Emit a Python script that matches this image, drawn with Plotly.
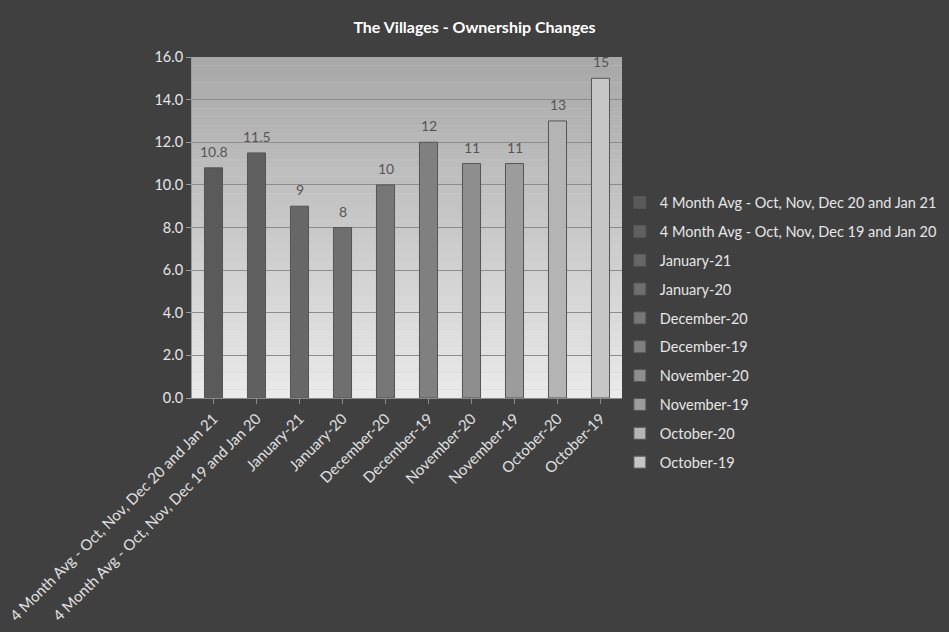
import plotly.graph_objects as go

# Chart values
categories = [
    "4 Month Avg - Oct, Nov, Dec 20 and Jan 21",
    "4 Month Avg - Oct, Nov, Dec 19 and Jan 20",
    "January-21",
    "January-20",
    "December-20",
    "December-19",
    "November-20",
    "November-19",
    "October-20",
    "October-19",
]
values = [10.8, 11.5, 9, 8, 10, 12, 11, 11, 13, 15]
labels = ["10.8", "11.5", "9", "8", "10", "12", "11", "11", "13", "15"]
bar_colors = [
    "#5a5a5a", "#606060", "#676767", "#6f6f6f", "#777777",
    "#808080", "#8e8e8e", "#9c9c9c", "#b4b4b4", "#c6c6c6",
]
y_ticks = [0, 2, 4, 6, 8, 10, 12, 14, 16]

FONT = "Lato, 'Open Sans', sans-serif"

fig = go.Figure()

for cat, val, col in zip(categories, values, bar_colors):
    fig.add_trace(go.Bar(
        x=[cat],
        y=[val],
        name=cat,
        legendgroup=cat,
        width=0.42,
        marker=dict(color=col, line=dict(color="#555555", width=1)),
    ))

# value labels above the bars
for cat, val, lab in zip(categories, values, labels):
    fig.add_annotation(
        x=cat, y=val, text=lab, showarrow=False,
        yanchor="bottom", yshift=6,
        font=dict(color="#555555", size=14, family=FONT),
    )

# gradient wall behind the bars (darker at top, lighter at bottom)
n_bands = 40
for i in range(n_bands):
    t = i / (n_bands - 1)
    g = int(234 - (234 - 168) * t)
    fig.add_shape(
        type="rect", xref="x domain", yref="y domain",
        x0=0, x1=1, y0=i / n_bands, y1=(i + 1) / n_bands,
        fillcolor=f"rgb({g},{g},{g})", line=dict(width=0),
        layer="below",
    )

fig.update_layout(
    width=949,
    height=632,
    barmode="overlay",
    paper_bgcolor="#404040",
    plot_bgcolor="#d0d0d0",
    font=dict(family=FONT, color="#e6e6e6", size=14),
    title=dict(
        text="<b>The Villages - Ownership Changes</b>",
        x=0.5, xanchor="center", y=0.957, yanchor="middle",
        font=dict(size=16, color="#ffffff", family=FONT),
    ),
    margin=dict(l=192, r=327, t=57, b=234, autoexpand=False),
    legend=dict(
        x=0.995, xanchor="left", y=0.62, yanchor="top",
        font=dict(size=14.5, color="#e6e6e6", family=FONT),
        tracegroupgap=7,
        itemwidth=30,
        bgcolor="rgba(0,0,0,0)",
    ),
    showlegend=True,
)

fig.update_xaxes(
    tickangle=-45,
    tickfont=dict(size=15, color="#e0e0e0", family=FONT),
    showline=True, linecolor="#8a8a8a",
    ticks="outside", tickcolor="#8a8a8a", ticklen=5,
    showgrid=False,
)
fig.update_yaxes(
    range=[0, 16],
    tickvals=y_ticks,
    tickformat=".1f",
    tickfont=dict(size=14.5, color="#e6e6e6", family=FONT),
    showgrid=True, gridcolor="#8c8c8c", gridwidth=1,
    zeroline=False,
    showline=True, linecolor="#9a9a9a",
    ticks="outside", tickcolor="#9a9a9a", ticklen=5,
)

fig.write_html(
    "out.html",
    config={"displayModeBar": False},
    post_script="document.body.style.margin='0';"
                "document.body.style.background='#404040';",
)
